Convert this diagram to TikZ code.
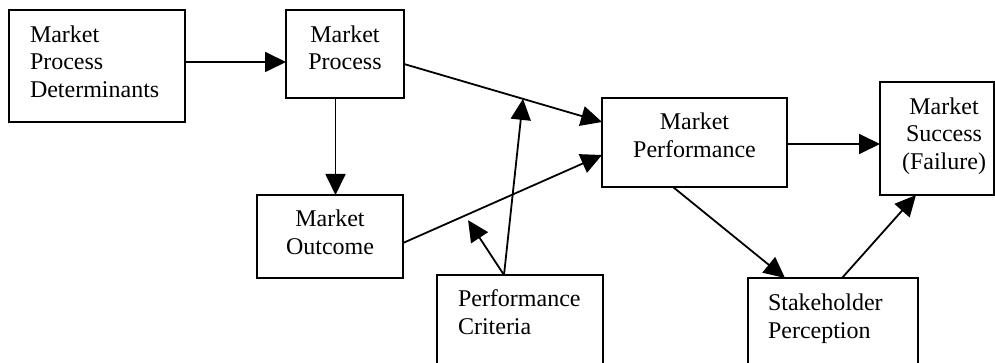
\documentclass[tikz,border=0pt]{standalone}
\usepackage{fontspec}
\setmainfont{Liberation Serif}
\usetikzlibrary{arrows.meta,calc}
\newcommand{\ctextlines}[1]{\vtop{\baselineskip=27.6pt\halign{\hfil##\hfil\cr#1\crcr}}}
\newcommand{\ltextlines}[1]{\vtop{\baselineskip=27.6pt\halign{##\hfil\cr#1\crcr}}}
\begin{document}
\begin{tikzpicture}[x=1pt,y=-1pt,
  boxnode/.style={draw=black,line width=2pt,rectangle,inner sep=0pt,outer sep=0pt,fill=white},
  txt/.style={inner sep=0pt,outer sep=0pt,font=\fontsize{24}{27.6}\selectfont},
  arr/.style={line width=1.8pt,-{Triangle[length=21pt,width=20pt]}}]
\useasboundingbox (0,0) rectangle (995,363);
\clip (0,0) rectangle (995,363);
\fill[white] (0,0) rectangle (995,363);
% boxes
\node[boxnode,minimum width=176pt,minimum height=112pt] (mpd) at (97,66) {};
\node[boxnode,minimum width=118pt,minimum height=88pt] (mp) at (345,54) {};
\node[boxnode,minimum width=146pt,minimum height=83pt] (mo) at (330,236.5) {};
\node[boxnode,minimum width=185pt,minimum height=89pt] (mperf) at (694.5,142.5) {};
\node[boxnode,minimum width=114pt,minimum height=113pt] (msf) at (937,138.5) {};
\node[boxnode,minimum width=166pt,minimum height=95pt] (pc) at (520,322.5) {};
\node[boxnode,minimum width=170pt,minimum height=92pt] (sp) at (833,324) {};
% texts
\node[txt,anchor=base west] (mpdt) at (30,42.3) {\ltextlines{Market\cr Process\cr Determinants}};
\node[txt,anchor=base] (mpt) at (345,42.3) {\ctextlines{Market\cr Process}};
\node[txt,anchor=base] (mot) at (330,226.7) {\ctextlines{Market\cr Outcome}};
\node[txt,anchor=base] (mperft) at (694.5,130) {\ctextlines{Market\cr Performance}};
\node[txt,anchor=base] (msft) at (944,114.3) {\ctextlines{Market\cr Success\cr (Failure)}};
\node[txt,anchor=base west] (pct) at (458,306.7) {\ltextlines{Performance\cr Criteria}};
\node[txt,anchor=base west] (spt) at (768,310.7) {\ltextlines{Stakeholder\cr Perception}};
% connector end points
\coordinate (p3s) at ([yshift=-10pt]mp.east);
\coordinate (p3e) at ([yshift=20.5pt]mperf.west);
\coordinate (p4s) at ([yshift=-6.5pt]mo.east);
\coordinate (p4e) at ([yshift=-12.5pt]mperf.west);
\coordinate (j1) at ($(p3s)!0.601!(p3e)$);
\coordinate (j2) at ($(p4s)!0.327!(p4e)$);
% connectors
\draw[arr] ([yshift=4pt]mpd.east) -- ([yshift=-8pt]mp.west);
\draw[arr] ([xshift=-9.5pt]mp.south) -- ([xshift=5.5pt]mo.north);
\draw[arr] (p3s) -- (p3e);
\draw[arr] (p4s) -- (p4e);
\draw[arr] ([xshift=-16pt]pc.north) -- (j1);
\draw[arr] ([xshift=-16pt]pc.north) -- ([yshift=-6pt]j2);
\draw[arr] ([yshift=-1.5pt]mperf.east) -- ([yshift=-5.5pt]msf.west);
\draw[arr] ([xshift=-21.5pt]mperf.south) -- ([xshift=-48pt]sp.north);
\draw[arr] ([xshift=9pt]sp.north) -- ([xshift=-21pt]msf.south);
\end{tikzpicture}
\end{document}
